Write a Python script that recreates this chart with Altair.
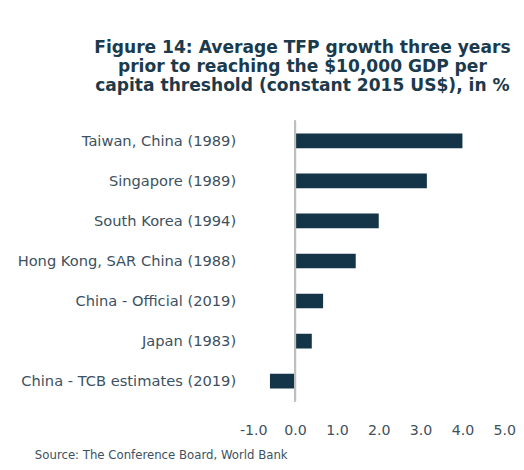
import altair as alt
import pandas as pd

countries = [
    "Taiwan, China (1989)",
    "Singapore (1989)",
    "South Korea (1994)",
    "Hong Kong, SAR China (1988)",
    "China - Official (2019)",
    "Japan (1983)",
    "China - TCB estimates (2019)",
]
values = [4.0, 3.15, 2.0, 1.45, 0.67, 0.4, -0.6]
ticks = [-1, 0, 1, 2, 3, 4, 5]

df = pd.DataFrame({"country": countries, "value": values})

text_color = "#3d5160"
bar_color = "#133547"
font = "DejaVu Sans"

bars = alt.Chart(df).mark_bar(color=bar_color, size=15).encode(
    x=alt.X(
        "value:Q",
        scale=alt.Scale(domain=[-1, 5], nice=False),
        axis=alt.Axis(
            values=ticks,
            labelExpr="(datum.value < 0 ? '-' : '') + format(abs(datum.value), '.1f')",
            labelOverlap=False,
            labelFlush=False,
            grid=False,
            domain=False,
            ticks=False,
            labelPadding=23,
            labelFontSize=14.5,
            labelColor=text_color,
            labelFont=font,
            title="Source: The Conference Board, World Bank",
            titleFont=font,
            titleFontSize=12,
            titleFontWeight="normal",
            titleColor=text_color,
            titleAnchor="start",
            titleAlign="left",
            titleX=-224,
            titleY=50,
        ),
    ),
    y=alt.Y(
        "country:N",
        sort=countries,
        axis=alt.Axis(
            title=None,
            domain=False,
            ticks=False,
            grid=False,
            labelPadding=18,
            labelFontSize=15,
            labelColor=text_color,
            labelFont=font,
            labelLimit=400,
        ),
    ),
)

zero = alt.Chart(df).mark_rule(color="#bfbfbf", strokeWidth=2).encode(x=alt.datum(0))

chart = (
    alt.layer(bars, zero)
    .properties(
        width=257,
        height=287,
        background="white",
        padding={"top": 26, "left": 9, "right": 0, "bottom": 5},
        title=alt.TitleParams(
            text=[
                "Figure 14: Average TFP growth three years",
                "prior to reaching the $10,000 GDP per",
                "capita threshold (constant 2015 US$), in %",
            ],
            font=font,
            fontSize=17.5,
            fontWeight="bold",
            color="#1b3a4b",
            anchor="middle",
            frame="bounds",
            dx=37,
            offset=26,
            lineHeight=19.5,
        ),
    )
    .configure_view(stroke=None, strokeWidth=0)
)

chart.save("out.html", embed_options={"renderer": "svg", "actions": False})
